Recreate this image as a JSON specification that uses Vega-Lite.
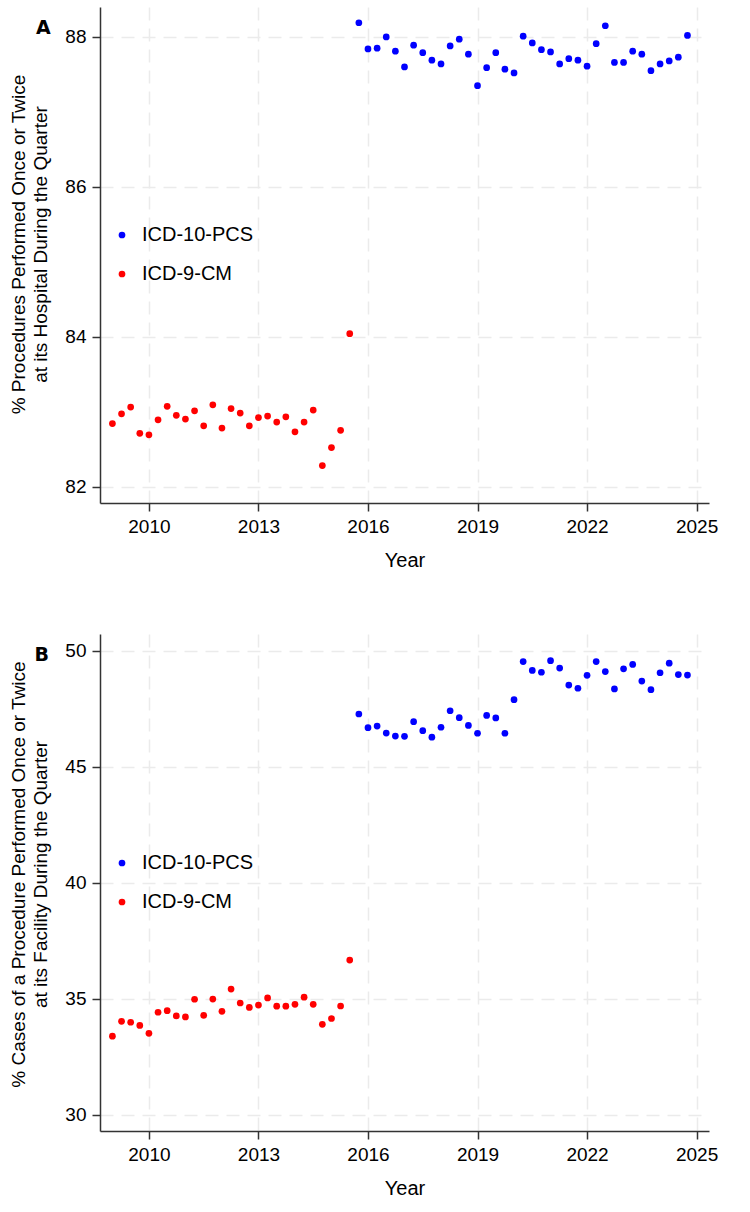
{
  "$schema": "https://vega.github.io/schema/vega-lite/v6.json",
  "padding": {"left": 9, "top": 7, "right": 10, "bottom": 5},
  "background": "white",
  "datasets": {
    "hospital": [
      {"t": 2009.0, "pct": 82.84, "code": "ICD-9-CM"},
      {"t": 2009.25, "pct": 82.97, "code": "ICD-9-CM"},
      {"t": 2009.5, "pct": 83.06, "code": "ICD-9-CM"},
      {"t": 2009.75, "pct": 82.71, "code": "ICD-9-CM"},
      {"t": 2010.0, "pct": 82.69, "code": "ICD-9-CM"},
      {"t": 2010.25, "pct": 82.89, "code": "ICD-9-CM"},
      {"t": 2010.5, "pct": 83.07, "code": "ICD-9-CM"},
      {"t": 2010.75, "pct": 82.95, "code": "ICD-9-CM"},
      {"t": 2011.0, "pct": 82.9, "code": "ICD-9-CM"},
      {"t": 2011.25, "pct": 83.01, "code": "ICD-9-CM"},
      {"t": 2011.5, "pct": 82.81, "code": "ICD-9-CM"},
      {"t": 2011.75, "pct": 83.09, "code": "ICD-9-CM"},
      {"t": 2012.0, "pct": 82.78, "code": "ICD-9-CM"},
      {"t": 2012.25, "pct": 83.04, "code": "ICD-9-CM"},
      {"t": 2012.5, "pct": 82.98, "code": "ICD-9-CM"},
      {"t": 2012.75, "pct": 82.81, "code": "ICD-9-CM"},
      {"t": 2013.0, "pct": 82.92, "code": "ICD-9-CM"},
      {"t": 2013.25, "pct": 82.94, "code": "ICD-9-CM"},
      {"t": 2013.5, "pct": 82.86, "code": "ICD-9-CM"},
      {"t": 2013.75, "pct": 82.93, "code": "ICD-9-CM"},
      {"t": 2014.0, "pct": 82.73, "code": "ICD-9-CM"},
      {"t": 2014.25, "pct": 82.86, "code": "ICD-9-CM"},
      {"t": 2014.5, "pct": 83.02, "code": "ICD-9-CM"},
      {"t": 2014.75, "pct": 82.28, "code": "ICD-9-CM"},
      {"t": 2015.0, "pct": 82.52, "code": "ICD-9-CM"},
      {"t": 2015.25, "pct": 82.75, "code": "ICD-9-CM"},
      {"t": 2015.5, "pct": 84.04, "code": "ICD-9-CM"},
      {"t": 2015.75, "pct": 88.19, "code": "ICD-10-PCS"},
      {"t": 2016.0, "pct": 87.84, "code": "ICD-10-PCS"},
      {"t": 2016.25, "pct": 87.85, "code": "ICD-10-PCS"},
      {"t": 2016.5, "pct": 88.0, "code": "ICD-10-PCS"},
      {"t": 2016.75, "pct": 87.81, "code": "ICD-10-PCS"},
      {"t": 2017.0, "pct": 87.6, "code": "ICD-10-PCS"},
      {"t": 2017.25, "pct": 87.89, "code": "ICD-10-PCS"},
      {"t": 2017.5, "pct": 87.79, "code": "ICD-10-PCS"},
      {"t": 2017.75, "pct": 87.69, "code": "ICD-10-PCS"},
      {"t": 2018.0, "pct": 87.64, "code": "ICD-10-PCS"},
      {"t": 2018.25, "pct": 87.88, "code": "ICD-10-PCS"},
      {"t": 2018.5, "pct": 87.97, "code": "ICD-10-PCS"},
      {"t": 2018.75, "pct": 87.77, "code": "ICD-10-PCS"},
      {"t": 2019.0, "pct": 87.35, "code": "ICD-10-PCS"},
      {"t": 2019.25, "pct": 87.59, "code": "ICD-10-PCS"},
      {"t": 2019.5, "pct": 87.79, "code": "ICD-10-PCS"},
      {"t": 2019.75, "pct": 87.57, "code": "ICD-10-PCS"},
      {"t": 2020.0, "pct": 87.52, "code": "ICD-10-PCS"},
      {"t": 2020.25, "pct": 88.01, "code": "ICD-10-PCS"},
      {"t": 2020.5, "pct": 87.92, "code": "ICD-10-PCS"},
      {"t": 2020.75, "pct": 87.83, "code": "ICD-10-PCS"},
      {"t": 2021.0, "pct": 87.8, "code": "ICD-10-PCS"},
      {"t": 2021.25, "pct": 87.64, "code": "ICD-10-PCS"},
      {"t": 2021.5, "pct": 87.71, "code": "ICD-10-PCS"},
      {"t": 2021.75, "pct": 87.69, "code": "ICD-10-PCS"},
      {"t": 2022.0, "pct": 87.61, "code": "ICD-10-PCS"},
      {"t": 2022.25, "pct": 87.91, "code": "ICD-10-PCS"},
      {"t": 2022.5, "pct": 88.15, "code": "ICD-10-PCS"},
      {"t": 2022.75, "pct": 87.66, "code": "ICD-10-PCS"},
      {"t": 2023.0, "pct": 87.66, "code": "ICD-10-PCS"},
      {"t": 2023.25, "pct": 87.81, "code": "ICD-10-PCS"},
      {"t": 2023.5, "pct": 87.77, "code": "ICD-10-PCS"},
      {"t": 2023.75, "pct": 87.55, "code": "ICD-10-PCS"},
      {"t": 2024.0, "pct": 87.64, "code": "ICD-10-PCS"},
      {"t": 2024.25, "pct": 87.68, "code": "ICD-10-PCS"},
      {"t": 2024.5, "pct": 87.73, "code": "ICD-10-PCS"},
      {"t": 2024.75, "pct": 88.02, "code": "ICD-10-PCS"}
    ],
    "facility": [
      {"t": 2009.0, "pct": 33.38, "code": "ICD-9-CM"},
      {"t": 2009.25, "pct": 34.02, "code": "ICD-9-CM"},
      {"t": 2009.5, "pct": 33.98, "code": "ICD-9-CM"},
      {"t": 2009.75, "pct": 33.84, "code": "ICD-9-CM"},
      {"t": 2010.0, "pct": 33.5, "code": "ICD-9-CM"},
      {"t": 2010.25, "pct": 34.41, "code": "ICD-9-CM"},
      {"t": 2010.5, "pct": 34.48, "code": "ICD-9-CM"},
      {"t": 2010.75, "pct": 34.25, "code": "ICD-9-CM"},
      {"t": 2011.0, "pct": 34.21, "code": "ICD-9-CM"},
      {"t": 2011.25, "pct": 34.97, "code": "ICD-9-CM"},
      {"t": 2011.5, "pct": 34.28, "code": "ICD-9-CM"},
      {"t": 2011.75, "pct": 34.98, "code": "ICD-9-CM"},
      {"t": 2012.0, "pct": 34.45, "code": "ICD-9-CM"},
      {"t": 2012.25, "pct": 35.41, "code": "ICD-9-CM"},
      {"t": 2012.5, "pct": 34.81, "code": "ICD-9-CM"},
      {"t": 2012.75, "pct": 34.62, "code": "ICD-9-CM"},
      {"t": 2013.0, "pct": 34.72, "code": "ICD-9-CM"},
      {"t": 2013.25, "pct": 35.03, "code": "ICD-9-CM"},
      {"t": 2013.5, "pct": 34.67, "code": "ICD-9-CM"},
      {"t": 2013.75, "pct": 34.67, "code": "ICD-9-CM"},
      {"t": 2014.0, "pct": 34.75, "code": "ICD-9-CM"},
      {"t": 2014.25, "pct": 35.06, "code": "ICD-9-CM"},
      {"t": 2014.5, "pct": 34.75, "code": "ICD-9-CM"},
      {"t": 2014.75, "pct": 33.89, "code": "ICD-9-CM"},
      {"t": 2015.0, "pct": 34.14, "code": "ICD-9-CM"},
      {"t": 2015.25, "pct": 34.68, "code": "ICD-9-CM"},
      {"t": 2015.5, "pct": 36.66, "code": "ICD-9-CM"},
      {"t": 2015.75, "pct": 47.27, "code": "ICD-10-PCS"},
      {"t": 2016.0, "pct": 46.68, "code": "ICD-10-PCS"},
      {"t": 2016.25, "pct": 46.75, "code": "ICD-10-PCS"},
      {"t": 2016.5, "pct": 46.45, "code": "ICD-10-PCS"},
      {"t": 2016.75, "pct": 46.32, "code": "ICD-10-PCS"},
      {"t": 2017.0, "pct": 46.31, "code": "ICD-10-PCS"},
      {"t": 2017.25, "pct": 46.94, "code": "ICD-10-PCS"},
      {"t": 2017.5, "pct": 46.55, "code": "ICD-10-PCS"},
      {"t": 2017.75, "pct": 46.27, "code": "ICD-10-PCS"},
      {"t": 2018.0, "pct": 46.7, "code": "ICD-10-PCS"},
      {"t": 2018.25, "pct": 47.41, "code": "ICD-10-PCS"},
      {"t": 2018.5, "pct": 47.11, "code": "ICD-10-PCS"},
      {"t": 2018.75, "pct": 46.78, "code": "ICD-10-PCS"},
      {"t": 2019.0, "pct": 46.44, "code": "ICD-10-PCS"},
      {"t": 2019.25, "pct": 47.21, "code": "ICD-10-PCS"},
      {"t": 2019.5, "pct": 47.1, "code": "ICD-10-PCS"},
      {"t": 2019.75, "pct": 46.44, "code": "ICD-10-PCS"},
      {"t": 2020.0, "pct": 47.89, "code": "ICD-10-PCS"},
      {"t": 2020.25, "pct": 49.53, "code": "ICD-10-PCS"},
      {"t": 2020.5, "pct": 49.15, "code": "ICD-10-PCS"},
      {"t": 2020.75, "pct": 49.07, "code": "ICD-10-PCS"},
      {"t": 2021.0, "pct": 49.57, "code": "ICD-10-PCS"},
      {"t": 2021.25, "pct": 49.25, "code": "ICD-10-PCS"},
      {"t": 2021.5, "pct": 48.52, "code": "ICD-10-PCS"},
      {"t": 2021.75, "pct": 48.38, "code": "ICD-10-PCS"},
      {"t": 2022.0, "pct": 48.94, "code": "ICD-10-PCS"},
      {"t": 2022.25, "pct": 49.53, "code": "ICD-10-PCS"},
      {"t": 2022.5, "pct": 49.1, "code": "ICD-10-PCS"},
      {"t": 2022.75, "pct": 48.35, "code": "ICD-10-PCS"},
      {"t": 2023.0, "pct": 49.22, "code": "ICD-10-PCS"},
      {"t": 2023.25, "pct": 49.41, "code": "ICD-10-PCS"},
      {"t": 2023.5, "pct": 48.69, "code": "ICD-10-PCS"},
      {"t": 2023.75, "pct": 48.32, "code": "ICD-10-PCS"},
      {"t": 2024.0, "pct": 49.05, "code": "ICD-10-PCS"},
      {"t": 2024.25, "pct": 49.46, "code": "ICD-10-PCS"},
      {"t": 2024.5, "pct": 48.97, "code": "ICD-10-PCS"},
      {"t": 2024.75, "pct": 48.95, "code": "ICD-10-PCS"}
    ]
  },
  "spacing": 64,
  "resolve": {"scale": {"color": "independent", "y": "independent"}, "legend": {"color": "independent"}},
  "vconcat": [
    {
      "width": 609,
      "height": 496,
      "title": {"text": "A", "anchor": "start", "frame": "group", "orient": "top", "font": "DejaVu Sans", "fontWeight": "bold", "fontSize": 19, "color": "#000", "baseline": "alphabetic", "offset": 0, "dx": -64, "dy": 46},
      "data": {"name": "hospital"},
      "mark": {"type": "circle", "size": 45, "opacity": 1},
      "encoding": {
        "x": {
          "field": "t", "type": "quantitative",
          "scale": {"domain": [2008.66, 2025.34], "nice": false, "zero": false},
          "axis": {"title": "Year", "values": [2010, 2013, 2016, 2019, 2022, 2025], "format": "d"}
        },
        "y": {
          "field": "pct", "type": "quantitative",
          "scale": {"domain": [81.78, 88.4], "nice": false, "zero": false},
          "axis": {"title": ["% Procedures Performed Once or Twice", "at its Hospital During the Quarter"], "values": [82, 84, 86, 88], "format": "d", "titleY": 237}
        },
        "color": {
          "field": "code", "type": "nominal",
          "scale": {"domain": ["ICD-10-PCS", "ICD-9-CM"], "range": ["#0000ff", "#ff0000"]},
          "legend": {"legendX": 12, "legendY": 218}
        }
      }
    },
    {
      "width": 609,
      "height": 497,
      "title": {"text": "B", "anchor": "start", "frame": "group", "orient": "top", "font": "DejaVu Sans", "fontWeight": "bold", "fontSize": 19, "color": "#000", "baseline": "alphabetic", "offset": 0, "dx": -65.5, "dy": 46},
      "data": {"name": "facility"},
      "mark": {"type": "circle", "size": 45, "opacity": 1},
      "encoding": {
        "x": {
          "field": "t", "type": "quantitative",
          "scale": {"domain": [2008.66, 2025.34], "nice": false, "zero": false},
          "axis": {"title": "Year", "values": [2010, 2013, 2016, 2019, 2022, 2025], "format": "d"}
        },
        "y": {
          "field": "pct", "type": "quantitative",
          "scale": {"domain": [29.29, 50.72], "nice": false, "zero": false},
          "axis": {"title": ["% Cases of a Procedure Performed Once or Twice", "at its Facility During the Quarter"], "values": [30, 35, 40, 45, 50], "format": "d", "titleY": 240}
        },
        "color": {
          "field": "code", "type": "nominal",
          "scale": {"domain": ["ICD-10-PCS", "ICD-9-CM"], "range": ["#0000ff", "#ff0000"]},
          "legend": {"legendX": 12, "legendY": 219}
        }
      }
    }
  ],
  "config": {
    "font": "Liberation Sans",
    "view": {"stroke": null},
    "axis": {
      "labelFont": "Liberation Sans",
      "labelFontSize": 19,
      "labelColor": "#000",
      "labelPadding": 6,
      "labelFlush": false,
      "titleFont": "Liberation Sans",
      "titleFontSize": 19,
      "titleFontWeight": "normal",
      "titleColor": "#000",
      "titleLineHeight": 22,
      "domainColor": "#333",
      "domainWidth": 1.5,
      "tickColor": "#333",
      "tickWidth": 1.5,
      "tickSize": 8,
      "grid": true,
      "gridColor": "#ebebeb",
      "gridDash": [13, 8],
      "gridWidth": 1.5
    },
    "axisX": {"titlePadding": 14, "titleFontSize": 20},
    "axisY": {"titlePadding": 14},
    "legend": {
      "orient": "none",
      "title": null,
      "padding": 0,
      "symbolType": "circle",
      "symbolSize": 45,
      "symbolOpacity": 1,
      "symbolStrokeWidth": 0,
      "labelFont": "Liberation Sans",
      "labelFontSize": 20,
      "labelColor": "#000",
      "labelOffset": 10,
      "rowPadding": 19
    }
  }
}
